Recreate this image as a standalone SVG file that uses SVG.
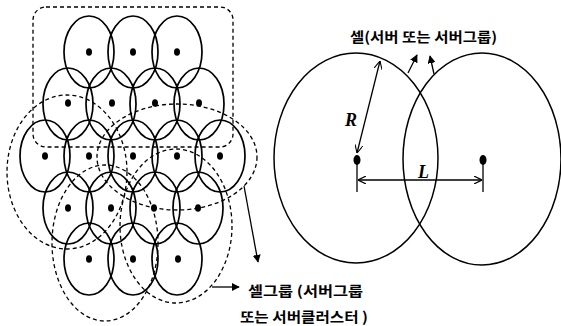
<svg xmlns="http://www.w3.org/2000/svg" width="561" height="326" viewBox="0 0 561 326">
<defs>
<style>
.cell{fill:none;stroke:#000;stroke-width:1.7}
.dot{fill:#000}
.grp{fill:none;stroke:#000;stroke-width:1.3;stroke-dasharray:4 3}
.ln{fill:none;stroke:#000;stroke-width:1.3}
.big{fill:none;stroke:#000;stroke-width:1.5}
.kr{font-family:"Noto Sans CJK KR","Noto Sans",sans-serif;font-size:14px;font-weight:bold;fill:#000}
.var{font-family:"Liberation Serif",serif;font-size:18px;font-weight:bold;font-style:italic;fill:#000}
</style>
<marker id="ah" viewBox="0 0 10 10" refX="9" refY="5" markerWidth="8" markerHeight="8" orient="auto-start-reverse" markerUnits="userSpaceOnUse"><path d="M0,0 L10,5 L0,10 z" fill="#000"/></marker>
<marker id="oa" viewBox="0 0 10 10" refX="10" refY="5" markerWidth="8" markerHeight="8" orient="auto-start-reverse" markerUnits="userSpaceOnUse"><path d="M0,0 L10,5 L0,10" fill="none" stroke="#000" stroke-width="1.4"/></marker>
</defs>
<rect width="561" height="326" fill="#fff"/>

<g id="cells">
<g id="r1"><ellipse class="cell" cx="89" cy="52" rx="25" ry="36"/><ellipse class="cell" cx="133" cy="52" rx="25" ry="36"/><ellipse class="cell" cx="177" cy="52" rx="25" ry="36"/>
<ellipse class="dot" cx="89" cy="52" rx="3" ry="3.8"/><ellipse class="dot" cx="133" cy="52" rx="3" ry="3.8"/><ellipse class="dot" cx="177" cy="52" rx="3" ry="3.8"/></g>
<g id="r2"><ellipse class="cell" cx="68" cy="104" rx="25" ry="36"/><ellipse class="cell" cx="111" cy="104" rx="25" ry="36"/><ellipse class="cell" cx="155" cy="104" rx="25" ry="36"/><ellipse class="cell" cx="199" cy="104" rx="25" ry="36"/>
<ellipse class="dot" cx="68" cy="103" rx="3" ry="3.8"/><ellipse class="dot" cx="112" cy="103" rx="3" ry="3.8"/><ellipse class="dot" cx="155" cy="103" rx="3" ry="3.8"/><ellipse class="dot" cx="199" cy="103" rx="3" ry="3.8"/></g>
<g id="r3"><ellipse class="cell" cx="45" cy="156" rx="25" ry="36"/><ellipse class="cell" cx="89" cy="156" rx="25" ry="36"/><ellipse class="cell" cx="133" cy="156" rx="25" ry="36"/><ellipse class="cell" cx="177" cy="156" rx="25" ry="36"/><ellipse class="cell" cx="220" cy="156" rx="25" ry="36"/>
<ellipse class="dot" cx="45" cy="156" rx="3" ry="3.8"/><ellipse class="dot" cx="89" cy="156" rx="3" ry="3.8"/><ellipse class="dot" cx="133" cy="156" rx="3" ry="3.8"/><ellipse class="dot" cx="177" cy="156" rx="3" ry="3.8"/><ellipse class="dot" cx="220" cy="156" rx="3" ry="3.8"/></g>
<g id="r4"><ellipse class="cell" cx="68" cy="208" rx="25" ry="36"/><ellipse class="cell" cx="111" cy="208" rx="25" ry="36"/><ellipse class="cell" cx="155" cy="208" rx="25" ry="36"/><ellipse class="cell" cx="198" cy="208" rx="25" ry="36"/>
<ellipse class="dot" cx="68" cy="208" rx="3" ry="3.8"/><ellipse class="dot" cx="111" cy="208" rx="3" ry="3.8"/><ellipse class="dot" cx="154" cy="208" rx="3" ry="3.8"/><ellipse class="dot" cx="198" cy="208" rx="3" ry="3.8"/></g>
<g id="r5"><ellipse class="cell" cx="89" cy="259" rx="25" ry="36"/><ellipse class="cell" cx="133" cy="259" rx="25" ry="36"/><ellipse class="cell" cx="177" cy="259" rx="25" ry="36"/>
<ellipse class="dot" cx="89" cy="259" rx="3" ry="3.8"/><ellipse class="dot" cx="133" cy="259" rx="3" ry="3.8"/><ellipse class="dot" cx="178" cy="259" rx="3" ry="3.8"/></g>
</g>

<g id="groups">
<rect id="grpTop" class="grp" x="33" y="7" width="200" height="140" rx="13"/>
<ellipse id="grpLeft" class="grp" cx="67" cy="172" rx="60" ry="77"/>
<ellipse id="grpRight" class="grp" cx="177" cy="157" rx="80" ry="53"/>
<ellipse id="grpLowL" class="grp" cx="105" cy="243" rx="53" ry="78"/>
<ellipse id="grpLowR" class="grp" cx="176" cy="226" rx="56" ry="77"/>
</g>

<g id="twoCells">
<g id="cellA"><ellipse class="big" cx="356" cy="158" rx="82" ry="105"/><ellipse class="dot" cx="357" cy="160" rx="3.5" ry="5"/></g>
<g id="cellB"><ellipse class="big" cx="482" cy="159" rx="79" ry="106"/><ellipse class="dot" cx="483" cy="160" rx="3.5" ry="5"/></g>
</g>

<g id="connectors">
<line class="ln" x1="244" y1="186" x2="258" y2="262" marker-end="url(#ah)"/>
<line class="ln" x1="212" y1="287" x2="239" y2="287" marker-end="url(#ah)"/>
<line class="ln" x1="408" y1="73" x2="417" y2="55" marker-end="url(#ah)"/>
<line class="ln" x1="434" y1="74" x2="430" y2="56" marker-end="url(#ah)"/>
<line class="ln" x1="357" y1="153" x2="380" y2="61" marker-start="url(#oa)" marker-end="url(#oa)"/>
<line class="ln" x1="357" y1="164" x2="357" y2="192"/>
<line class="ln" x1="483" y1="164" x2="483" y2="192"/>
<line class="ln" x1="358" y1="180" x2="482" y2="180" marker-start="url(#oa)" marker-end="url(#oa)"/>
</g>

<g id="labels">
<text class="var" x="345" y="126">R</text>
<text class="var" x="418" y="178">L</text>
<text class="kr" x="350" y="42" textLength="147" lengthAdjust="spacingAndGlyphs">셀(서버 또는 서버그룹)</text>
<text class="kr" x="248" y="296" textLength="115" lengthAdjust="spacingAndGlyphs">셀그룹 (서버그룹</text>
<text class="kr" x="240" y="322" textLength="128" lengthAdjust="spacingAndGlyphs">또는 서버클러스터 )</text>
</g>
</svg>
